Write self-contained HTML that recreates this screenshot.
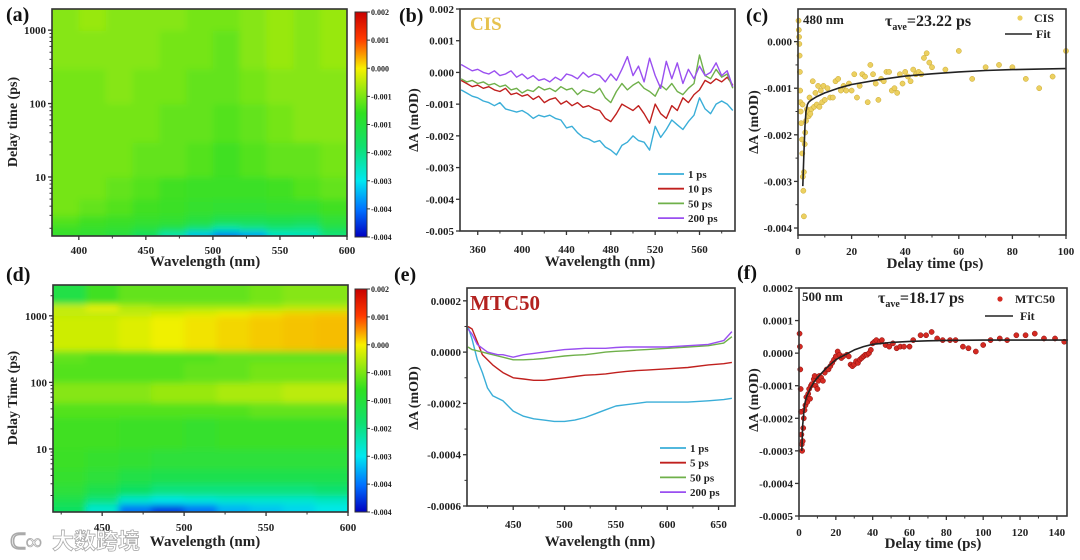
<!DOCTYPE html>
<html><head><meta charset="utf-8"><style>
html,body{margin:0;padding:0;background:#fff;}
svg{display:block;font-family:"Liberation Serif","Noto Serif CJK SC",serif;font-weight:bold;}
</style></head><body>
<svg id="fig" width="1080" height="560" viewBox="0 0 1080 560" xmlns="http://www.w3.org/2000/svg">
<defs>
<filter id="blur" x="-5%" y="-5%" width="110%" height="110%"><feGaussianBlur stdDeviation="3.5"/></filter>
<clipPath id="clipA"><rect x="52" y="9" width="295" height="227"/></clipPath>
<clipPath id="clipD"><rect x="53" y="285" width="295" height="227"/></clipPath>
<linearGradient id="jet" x1="0" y1="0" x2="0" y2="1">
<stop offset="0" stop-color="#c80000"/><stop offset="0.12" stop-color="#ff3a00"/><stop offset="0.25" stop-color="#f8f000"/>
<stop offset="0.45" stop-color="#30e020"/><stop offset="0.6" stop-color="#10e070"/><stop offset="0.75" stop-color="#00e8f0"/>
<stop offset="0.88" stop-color="#0070ff"/><stop offset="1" stop-color="#0000c0"/></linearGradient>
</defs>
</svg>
<script>
// ---------- DATA ----------
const aWl=[380,400,420,440,460,480,500,520,540,560,580,600];
const aT=[1.57,1.8,2.2,3,5,10,30,100,300,1000,1940];
const aVals=[
[-1.2,-1.3,-1.5,-2.0,-2.6,-3.2,-3.6,-3.4,-2.8,-2.7,-2.2],
[-1.1,-1.2,-1.3,-1.5,-1.8,-2.2,-2.6,-2.4,-2.2,-2.3,-1.8],
[-0.9,-1.0,-1.1,-1.2,-1.3,-1.5,-1.8,-1.8,-1.7,-1.8,-1.4],
[-0.7,-0.8,-0.9,-1.0,-1.1,-1.2,-1.3,-1.3,-1.2,-1.2,-1.0],
[-0.7,-0.7,-0.8,-0.9,-1.0,-1.1,-1.1,-1.1,-1.0,-0.9,-0.8],
[-0.7,-0.7,-0.7,-0.8,-0.8,-0.9,-1.0,-0.9,-0.8,-0.8,-0.7],
[-0.7,-0.7,-0.7,-0.7,-0.8,-0.8,-0.9,-0.8,-0.7,-0.6,-0.6],
[-0.7,-0.7,-0.6,-0.7,-0.7,-0.8,-0.8,-0.7,-0.6,-0.6,-0.6],
[-0.6,-0.6,-0.6,-0.6,-0.7,-0.7,-0.8,-0.6,-0.5,-0.6,-0.5],
[-0.6,-0.5,-0.6,-0.6,-0.6,-0.7,-0.7,-0.6,-0.5,-0.6,-0.5]];
const dWl=[420,440,460,480,500,520,540,560,580,600];
const dT=[1.13,1.5,2,3,5,10,30,50,100,200,300,1000,1200,1500,2900];
const dVals=[
[-2.0,-2.8,-3.6,-3.8,-3.6,-3.3,-3.2,-3.1,-3.0],
[-1.7,-2.2,-2.8,-3.0,-2.9,-2.8,-2.8,-2.8,-2.7],
[-1.4,-1.7,-2.0,-2.2,-2.2,-2.2,-2.2,-2.2,-2.1],
[-1.2,-1.4,-1.6,-1.7,-1.7,-1.7,-1.7,-1.7,-1.7],
[-1.1,-1.2,-1.3,-1.4,-1.4,-1.4,-1.4,-1.4,-1.4],
[-1.0,-1.0,-1.1,-1.1,-1.2,-1.1,-1.1,-1.1,-1.1],
[-0.9,-0.9,-0.9,-0.9,-0.9,-0.9,-0.8,-0.8,-0.8],
[-0.6,-0.6,-0.6,-0.5,-0.5,-0.4,-0.4,-0.3,-0.3],
[-0.9,-0.9,-0.9,-0.9,-0.8,-0.8,-0.7,-0.7,-0.7],
[-0.8,-0.9,-0.9,-0.9,-0.9,-0.8,-0.8,-0.8,-0.8],
[-0.2,-0.2,-0.1,0.0,0.1,0.2,0.3,0.35,0.4],
[-0.3,-0.3,-0.3,-0.2,-0.1,0.0,0.1,0.25,0.3],
[-0.2,0.0,-0.3,-0.4,-0.4,-0.4,-0.4,-0.3,-0.3],
[-1.6,-1.0,-0.8,-0.8,-0.8,-0.8,-0.7,-0.6,-0.6]];
const cbLabels=['0.002','0.001','0.000','-0.001','-0.001','-0.002','-0.003','-0.004','-0.004'];

const bWl=[345,350,355,360,365,370,375,380,385,390,395,400,405,410,415,420,425,430,435,440,445,450,455,460,465,470,475,480,485,490,495,500,505,510,515,520,525,530,535,540,545,550,555,560,565,570,575,580,585,590];
const b1ps=[-0.55,-0.65,-0.75,-0.8,-0.9,-0.95,-1.05,-0.95,-1.15,-1.2,-1.25,-1.2,-1.3,-1.45,-1.35,-1.4,-1.35,-1.45,-1.5,-1.75,-1.7,-1.9,-2.05,-2.1,-2.2,-2.15,-2.35,-2.45,-2.6,-2.3,-2.2,-2.0,-2.15,-2.2,-2.45,-1.7,-2.05,-1.8,-1.5,-1.65,-1.8,-1.55,-1.35,-0.8,-1.15,-1.3,-1.0,-0.9,-1.0,-1.2];
const b10ps=[-0.25,-0.35,-0.45,-0.4,-0.5,-0.45,-0.55,-0.6,-0.5,-0.7,-0.65,-0.75,-0.7,-0.85,-0.75,-0.95,-0.85,-0.8,-1.0,-0.9,-1.05,-0.95,-1.1,-1.05,-1.15,-1.2,-1.45,-1.55,-1.3,-1.0,-1.1,-1.2,-1.05,-1.3,-1.6,-1.0,-1.3,-1.45,-1.05,-1.2,-0.8,-0.95,-0.7,-0.55,-0.25,-0.35,-0.2,-0.3,-0.15,-0.4];
const b50ps=[-0.2,-0.3,-0.25,-0.35,-0.3,-0.4,-0.35,-0.45,-0.4,-0.55,-0.5,-0.65,-0.55,-0.6,-0.45,-0.55,-0.5,-0.6,-0.45,-0.55,-0.5,-0.7,-0.55,-0.6,-0.65,-0.5,-0.8,-0.95,-0.6,-0.35,-0.55,-0.4,-0.3,-0.5,-0.6,-0.75,-0.4,-0.55,-0.35,-0.6,-0.7,-0.5,-0.35,0.55,-0.1,-0.2,0.1,-0.15,-0.05,-0.5];
const b200ps=[0.25,0.15,0.05,0.1,0.0,-0.05,0.05,-0.1,-0.05,0.05,-0.15,-0.05,-0.2,-0.1,-0.25,-0.2,-0.3,-0.15,-0.25,-0.05,-0.1,-0.2,0.0,-0.15,-0.05,-0.1,-0.3,-0.05,-0.25,0.1,0.5,-0.1,0.2,-0.3,0.45,-0.1,-0.5,0.35,-0.2,0.3,-0.35,0.1,-0.2,0.2,-0.1,0.0,0.3,-0.1,0.05,-0.45];
const bLabels=['1 ps','10 ps','50 ps','200 ps'];

const eWl=[406,410,415,420,425,430,435,440,450,460,470,480,490,500,510,520,530,540,550,560,570,580,600,620,640,655,663];
const e1ps=[0.1,0.05,-0.03,-0.08,-0.14,-0.17,-0.18,-0.19,-0.23,-0.25,-0.26,-0.265,-0.27,-0.27,-0.265,-0.255,-0.24,-0.225,-0.21,-0.205,-0.2,-0.195,-0.195,-0.195,-0.19,-0.185,-0.18];
const e5ps=[0.1,0.09,0.04,-0.01,-0.03,-0.05,-0.065,-0.08,-0.1,-0.105,-0.11,-0.11,-0.105,-0.1,-0.095,-0.09,-0.088,-0.085,-0.08,-0.075,-0.072,-0.07,-0.065,-0.06,-0.05,-0.045,-0.04];
const e50ps=[0.02,0.01,0.005,0.0,-0.005,-0.01,-0.015,-0.02,-0.03,-0.03,-0.028,-0.025,-0.02,-0.015,-0.012,-0.01,-0.005,0.0,0.003,0.005,0.008,0.01,0.015,0.02,0.025,0.035,0.06];
const e200ps=[0.09,0.07,0.03,0.015,0.0,-0.005,-0.01,-0.01,-0.02,-0.01,-0.005,0.0,0.005,0.01,0.012,0.015,0.015,0.015,0.018,0.02,0.02,0.02,0.02,0.025,0.03,0.045,0.08];
const eLabels=['1 ps','5 ps','50 ps','200 ps'];

const cPts=[[0.2,0.45],[0.3,0.25],[0.4,0.1],[0.5,-0.05],[0.6,-0.3],[0.7,-0.65],[0.8,-1.05],[0.9,-1.3],[1,-1.5],[1.2,-1.75],[1.5,-2.1],[1.6,-2.4],[1.8,-2.9],[2,-3.2],[2.2,-3.75],[1.7,-1.35],[2.2,-2.8],[2.5,-2.2],[2.7,-1.95],[3,-1.7],[3.3,-1.45],[3.6,-1.5],[4,-1.6],[4.3,-1.2],[4.6,-1.55],[5,-1.45],[5.5,-0.85],[6,-1.4],[6.5,-1.1],[7,-1.35],[7.5,-0.95],[8,-1.4],[8.5,-1.05],[9,-1.3],[9.5,-0.95],[10,-1.25],[11,-1.0],[12,-1.2],[13,-1.2],[14,-0.85],[15,-0.8],[16,-1.05],[17,-0.95],[18,-1.05],[19,-0.9],[20,-1.05],[21,-0.7],[22,-1.2],[23,-0.95],[24,-0.7],[25,-0.75],[26,-1.3],[27,-0.5],[28,-0.7],[29,-0.9],[30,-1.25],[31,-0.8],[32,-0.85],[33,-0.65],[34,-0.65],[35,-1.05],[36,-1.0],[37,-1.1],[38,-0.7],[39,-0.9],[40,-0.65],[41,-0.75],[42,-0.85],[43,-0.6],[44,-0.7],[45,-0.65],[46,-0.7],[47,-0.35],[48,-0.25],[49,-0.45],[50,-0.55],[55,-0.6],[60,-0.2],[65,-0.8],[70,-0.55],[75,-0.5],[80,-0.55],[85,-0.8],[90,-1.0],[95,-0.75],[100,-0.2]];
const cFit=[[1.8,-3.1],[2.2,-2.4],[2.6,-1.8],[3,-1.5],[3.5,-1.35],[4,-1.3],[5,-1.25],[7,-1.18],[10,-1.1],[15,-1.0],[20,-0.92],[30,-0.82],[40,-0.74],[50,-0.69],[60,-0.65],[70,-0.62],[80,-0.6],[90,-0.59],[100,-0.58]];
const fPts=[[0.3,0.6],[0.5,0.2],[0.7,-0.5],[0.9,-1.1],[1.1,-1.8],[1.3,-2.5],[1.5,-2.8],[1.7,-3.0],[2,-2.7],[2.3,-2.3],[2.6,-2.0],[3,-1.75],[3.5,-1.6],[4,-1.35],[4.5,-1.5],[5,-1.25],[5.5,-1.1],[6,-1.4],[6.5,-1.0],[7,-0.95],[8,-0.8],[8.5,-0.7],[9,-1.0],[10,-1.1],[10.5,-0.85],[11,-0.7],[12,-0.75],[13,-0.85],[14,-0.6],[15,-0.5],[16,-0.5],[17,-0.4],[18,-0.3],[19,-0.2],[20,-0.1],[21,0.05],[22,-0.05],[23,-0.15],[24,-0.1],[26,-0.05],[27,-0.1],[28,-0.35],[29,-0.4],[30,-0.35],[31,-0.25],[32,-0.3],[33,-0.2],[34,-0.15],[35,-0.1],[36,-0.05],[37,-0.05],[38,0.0],[39,0.1],[40,0.3],[41,0.35],[42,0.4],[44,0.35],[45,0.4],[47,0.25],[49,0.2],[51,0.3],[53,0.15],[55,0.2],[57,0.2],[60,0.2],[62,0.4],[66,0.55],[69,0.55],[72,0.65],[75,0.45],[78,0.4],[82,0.4],[85,0.4],[89,0.2],[92,0.15],[96,0.05],[100,0.25],[104,0.4],[109,0.45],[113,0.4],[118,0.55],[123,0.55],[128,0.6],[133,0.45],[139,0.45],[144,0.35]];
const fFit=[[1.5,-3.0],[2,-2.2],[3,-1.6],[4,-1.35],[6,-1.1],[8,-0.9],[10,-0.75],[15,-0.45],[20,-0.2],[25,-0.05],[30,0.1],[35,0.2],[40,0.27],[50,0.33],[60,0.36],[70,0.38],[80,0.39],[100,0.4],[146,0.4]];

const bTicksX=[360,400,440,480,520,560];
const bTicksY=[0.002,0.001,0,-0.001,-0.002,-0.003,-0.004,-0.005];
const eTicksX=[450,500,550,600,650];
const eTicksY=[0.0002,0,-0.0002,-0.0004,-0.0006];
const cTicksX=[0,20,40,60,80,100];
const cTicksY=[0,-0.001,-0.002,-0.003,-0.004];
const fTicksX=[0,20,40,60,80,100,120,140];
const fTicksY=[0.0002,0.0001,0,-0.0001,-0.0002,-0.0003,-0.0004,-0.0005];

// ---------- HELPERS ----------
const NS='http://www.w3.org/2000/svg';
const svg=document.getElementById('fig');
function mk(tag,attrs,parent){const e=document.createElementNS(NS,tag);for(const k in attrs)e.setAttribute(k,attrs[k]);(parent||svg).appendChild(e);return e;}
function txt(s,x,y,size,anchor,parent,fill){const t=mk('text',{x:x,y:y,'font-size':size,'text-anchor':anchor||'start',fill:fill||'#222'},parent);t.textContent=s;return t;}
function lin(d0,d1,r0,r1){return v=>r0+(v-d0)*(r1-r0)/(d1-d0);}
function logs(d0,d1,r0,r1){return v=>r0+(Math.log10(v)-Math.log10(d0))*(r1-r0)/(Math.log10(d1)-Math.log10(d0));}
const cStops=[2,1,0,-1,-2,-3,-3.5,-4];
const cCols=[[216,0,0],[255,112,0],[240,240,0],[64,224,32],[16,224,96],[0,232,232],[0,144,255],[0,16,208]];
function cmap(v){if(v>=cStops[0])return 'rgb('+cCols[0]+')';for(let i=0;i<cStops.length-1;i++){if(v<=cStops[i]&&v>=cStops[i+1]){const f=(cStops[i]-v)/(cStops[i]-cStops[i+1]);const c=cCols[i].map((a,j)=>Math.round(a+(cCols[i+1][j]-a)*f));return 'rgb('+c+')';}}return 'rgb('+cCols[cCols.length-1]+')';}
function frame(x0,y0,x1,y1,name){const r=mk('rect',{x:x0,y:y0,width:x1-x0,height:y1-y0,fill:'none',stroke:'#333','stroke-width':1.6});}
function xTicks(sx,ticks,minors,y1,base,name){const g=mk('g',{});
 ticks.forEach(v=>{mk('line',{x1:sx(v),x2:sx(v),y1:y1,y2:y1+4,stroke:'#333','stroke-width':1.3},g);txt(String(v),sx(v),base,11,'middle',g);});
 minors.forEach(v=>mk('line',{x1:sx(v),x2:sx(v),y1:y1,y2:y1+2.5,stroke:'#333','stroke-width':1},g));}
function yTicks(sy,ticks,labels,minors,x0,name){const g=mk('g',{});
 ticks.forEach((v,i)=>{mk('line',{x1:x0-4,x2:x0,y1:sy(v),y2:sy(v),stroke:'#333','stroke-width':1.3},g);txt(labels[i],x0-6,sy(v)+4,11,'end',g);});
 minors.forEach(v=>mk('line',{x1:x0-2.5,x2:x0,y1:sy(v),y2:sy(v),stroke:'#333','stroke-width':1},g));}
function fmt(v,d){return v===0?(0).toFixed(d):v.toFixed(d);}
function ytitle(s,x,y,name){const t=txt(s,x,y,14,'middle');t.setAttribute('transform','rotate(-90 '+x+' '+y+')');}
function xtitle(s,x,y,name){const t=txt(s,x,y,15,'middle');}
function plabel(s,x,y,name){const t=txt(s,x,y,20,'start',null,'#111');}
function path(pts,sx,sy,col,w,parent){let d='';pts.forEach((p,i)=>{d+=(i?'L':'M')+sx(p[0]).toFixed(1)+','+sy(p[1]).toFixed(1);});return mk('path',{d:d,fill:'none',stroke:col,'stroke-width':w,'stroke-linejoin':'round'},parent);}
function logMinors(lo,hi){const m=[];for(let d=0;d<4;d++)for(let k=2;k<10;k++){const v=k*Math.pow(10,d);if(v>lo&&v<hi)m.push(v);}return m;}

// ---------- HEATMAPS ----------
function heatmap(P,wl,tt,vals,clip,name){
 const sx=lin(P.xmin,P.xmax,P.x0,P.x1), sy=logs(P.ymin,P.ymax,P.y1,P.y0);
 const outer=mk('g',{'clip-path':'url(#'+clip+')'});
 const g=mk('g',{filter:'url(#blur)'},outer);
 for(let r=0;r<vals.length;r++)for(let c=0;c<vals[r].length;c++){
  let xa=sx(wl[c]),xb=sx(wl[c+1]),ya=sy(tt[r+1]),yb=sy(tt[r]);
  if(c===0)xa-=14; if(c===vals[r].length-1)xb+=14; if(r===0)yb+=14; if(r===vals.length-1)ya-=14;
  const cell=mk('rect',{x:xa,y:ya,width:xb-xa+0.6,height:yb-ya+0.6,fill:cmap(vals[r][c])},g);
  
  
 }
 frame(P.x0,P.y0,P.x1,P.y1,name+'-frame');
 return {sx,sy};
}
function colorbar(x,y0,y1,name){const g=mk('g',{});
 mk('rect',{x:x,y:y0,width:12,height:y1-y0,fill:'url(#jet)',stroke:'#333','stroke-width':1},g);
 cbLabels.forEach((s,i)=>{const y=y0+(y1-y0)*i/(cbLabels.length-1);mk('line',{x1:x+12,x2:x+15,y1:y,y2:y,stroke:'#333'},g);txt(s,x+16,y+3,8,'start',g);});}

const PA={x0:52,x1:347,y0:9,y1:236,xmin:380,xmax:600,ymin:1.57,ymax:1940};
const hA=heatmap(PA,aWl,aT,aVals,'clipA','heatmap-a');
xTicks(hA.sx,[400,450,500,550,600],[425,475,525,575],236,254,'x-axis-a');
yTicks(hA.sy,[10,100,1000],['10','100','1000'],logMinors(1.57,1940),52,'y-axis-a');
colorbar(355,12,237,'colorbar-a');
ytitle('Delay time (ps)',17,122,'y-axis-title-a');
xtitle('Wavelength (nm)',205,266,'x-axis-title-a');
plabel('(a)',6,21,'panel-label-a');

const PD={x0:53,x1:348,y0:285,y1:512,xmin:420,xmax:600,ymin:1.13,ymax:2900};
const hD=heatmap(PD,dWl,dT,dVals,'clipD','heatmap-d');
xTicks(hD.sx,[450,500,550,600],[425,475,525,575],512,531,'x-axis-d');
yTicks(hD.sy,[10,100,1000],['10','100','1000'],logMinors(1.13,2900),53,'y-axis-d');
colorbar(355,289,512,'colorbar-d');
ytitle('Delay Time (ps)',17,398,'y-axis-title-d');
xtitle('Wavelength (nm)',205,546,'x-axis-title-d');
plabel('(d)',6,281,'panel-label-d');

// ---------- SPECTRA ----------
const colBlue='#3aaed8',colRed='#c0201e',colGreen='#6fb04a',colPurple='#9a4ff0';
function spectra(P,wl,series,labels,ticksX,minX,ticksY,minY,dec,scale,legY,name){
 const sx=lin(P.xmin,P.xmax,P.x0,P.x1), sy=lin(P.ymin,P.ymax,P.y1,P.y0);
 const g=mk('g',{});
 const cols=[colBlue,colRed,colGreen,colPurple];
 series.forEach((s,i)=>{const p=path(s.map((v,j)=>[wl[j],v*scale]),sx,sy,cols[i],1.4,g);});
 frame(P.x0,P.y0,P.x1,P.y1,name+'-frame');
 xTicks(sx,ticksX,minX,P.y1,P.y1+22,name+'-x-axis');
 yTicks(sy,ticksY,ticksY.map(v=>fmt(v,dec)),minY,P.x0,name+'-y-axis');
 const lg=mk('g',{});
 labels.forEach((l,i)=>{const y=legY+i*14.7;const e=mk('g',{},lg);
  mk('line',{x1:P.lx,x2:P.lx+26,y1:y,y2:y,stroke:cols[i],'stroke-width':1.8},e);txt(l,P.lx+30,y+4,11,'start',e);});
}
const PB={x0:460,x1:735,y0:9,y1:231,xmin:344,xmax:592,ymin:-0.005,ymax:0.002,lx:658};
spectra(PB,bWl,[b1ps,b10ps,b50ps,b200ps],bLabels,bTicksX,[380,420,460,500,540,580],bTicksY,[],3,0.001,174,'spectra-b');
ytitle('ΔA (mOD)',418,120,'y-axis-title-b');
xtitle('Wavelength (nm)',600,266,'x-axis-title-b');
plabel('(b)',399,22,'panel-label-b');
const cis=txt('CIS',470,30,19,'start',null,'#e6c24e');

const PE={x0:467,x1:735,y0:288,y1:506,xmin:405,xmax:666,ymin:-0.0006,ymax:0.00025,lx:660};
spectra(PE,eWl,[e1ps,e5ps,e50ps,e200ps],eLabels,eTicksX,[425,475,525,575,625],eTicksY,[0.0001,-0.0001,-0.0003,-0.0005],4,0.001,448,'spectra-e');
ytitle('ΔA (mOD)',418,398,'y-axis-title-e');
xtitle('Wavelength (nm)',600,546,'x-axis-title-e');
plabel('(e)',394,281,'panel-label-e');
const mtc=txt('MTC50',470,310,21,'start',null,'#b3221f');

// ---------- KINETICS ----------
function kinetics(P,pts,fit,col,stroke,scale,ticksX,minX,ticksY,minY,dec,name){
 const sx=lin(P.xmin,P.xmax,P.x0,P.x1), sy=lin(P.ymin,P.ymax,P.y1,P.y0);
 const g=mk('g',{});
 pts.forEach(p=>{const c=mk('circle',{cx:sx(p[0]),cy:sy(p[1]*scale),r:2.6,fill:col,stroke:stroke,'stroke-width':0.5},g);});
 const f=path(fit.map(p=>[p[0],p[1]*scale]),sx,sy,'#222',1.6,g);
 frame(P.x0,P.y0,P.x1,P.y1,name+'-frame');
 xTicks(sx,ticksX,minX,P.y1,P.y1+20,name+'-x-axis');
 yTicks(sy,ticksY,ticksY.map(v=>fmt(v,dec)),minY,P.x0,name+'-y-axis');
}
const PC={x0:798,x1:1066,y0:9,y1:235,xmin:0,xmax:100,ymin:-0.00415,ymax:0.0007};
kinetics(PC,cPts,cFit,'#ecd060','#c9a830',0.001,cTicksX,[10,30,50,70,90],cTicksY,[-0.0005,-0.0015,-0.0025,-0.0035],3,'kinetics-c');
ytitle('ΔA (mOD)',758,122,'y-axis-title-c');
xtitle('Delay time (ps)',935,268,'x-axis-title-c');
plabel('(c)',746,22,'panel-label-c');
txt('480 nm',803,24,13);
const tc=txt('τ',885,26,16);
mk('tspan',{'font-size':10,dy:4},tc).textContent='ave';
mk('tspan',{'font-size':16,dy:-4},tc).textContent='=23.22 ps';
{const lg=mk('g',{});
 mk('circle',{cx:1020,cy:18,r:2.6,fill:'#ecd060'},lg);txt('CIS',1034,22,12,'start',lg);
 mk('line',{x1:1005,x2:1032,y1:34,y2:34,stroke:'#222','stroke-width':1.6},lg);txt('Fit',1036,38,12,'start',lg);}

const PF={x0:799,x1:1067,y0:288,y1:516,xmin:0,xmax:145.5,ymin:-0.0005,ymax:0.0002};
kinetics(PF,fPts,fFit,'#d42a22','#8a1010',0.0001,fTicksX,[10,30,50,70,90,110,130],fTicksY,[],4,'kinetics-f');
ytitle('ΔA (mOD)',758,400,'y-axis-title-f');
xtitle('Delay time (ps)',933,548,'x-axis-title-f');
plabel('(f)',737,279,'panel-label-f');
txt('500 nm',802,301,13);
const tf=txt('τ',878,303,16);
mk('tspan',{'font-size':10,dy:4},tf).textContent='ave';
mk('tspan',{'font-size':16,dy:-4},tf).textContent='=18.17 ps';
{const lg=mk('g',{});
 mk('circle',{cx:1000,cy:299,r:2.6,fill:'#d42a22'},lg);txt('MTC50',1015,303,12,'start',lg);
 mk('line',{x1:985,x2:1013,y1:316,y2:316,stroke:'#222','stroke-width':1.6},lg);txt('Fit',1020,320,12,'start',lg);}

// watermark
const wm=txt('大数跨境',52,549,22,'start',null,'#fff');
wm.setAttribute('stroke','#aaa');wm.setAttribute('stroke-width','0.8');
wm.setAttribute('style','font-family:"Noto Sans CJK SC",sans-serif;font-weight:bold');


const wl=txt('ᑕ∞',10,549,22,'start',null,'#fff');
wl.setAttribute('stroke','#aaa');wl.setAttribute('stroke-width','0.8');


</script>
</body></html>
